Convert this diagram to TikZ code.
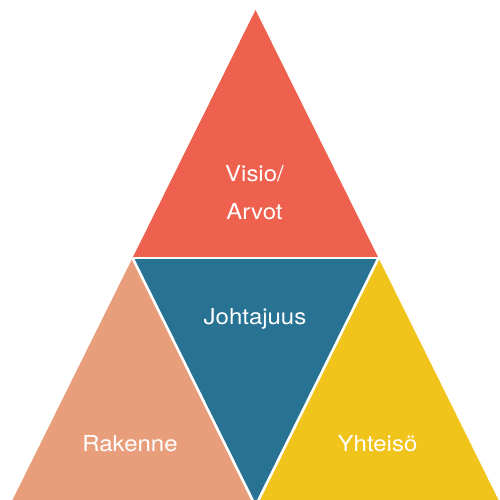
\documentclass[tikz,border=0pt]{standalone}
\usepackage{fontspec}
\setmainfont{TeX Gyre Heros}
\definecolor{cred}{RGB}{238,97,79}
\definecolor{csalmon}{RGB}{232,157,123}
\definecolor{cblue}{RGB}{40,114,148}
\definecolor{cyellow}{RGB}{240,196,26}
\tikzset{
  lbl/.style={text=white, anchor=base, inner sep=0pt, font=\fontsize{22}{26}\selectfont},
  gap/.style={draw=white, line width=2.6pt},
}
\newcommand{\wtxt}[1]{\scalebox{1.09}[1]{#1}}
\begin{document}
\begin{tikzpicture}[x=1pt,y=1pt]
\useasboundingbox (0,0) rectangle (500,500);
\clip (0,0) rectangle (500,500);
\coordinate (A) at (255.5,490);
\coordinate (L) at (132.5,242);
\coordinate (R) at (378.5,242);
\coordinate (BL) at (9.5,-6);
\coordinate (BM) at (255.5,-6);
\coordinate (BR) at (501.5,-6);
\fill[cred] (A) -- (L) -- (R) -- cycle;
\fill[csalmon] (L) -- (BL) -- (BM) -- cycle;
\fill[cyellow] (R) -- (BM) -- (BR) -- cycle;
\fill[cblue] (L) -- (R) -- (BM) -- cycle;
\draw[gap] (L) -- (R);
\draw[gap] (L) -- (BM) -- (R);
\node[lbl] (visio) at (254.5,318) {\wtxt{Visio/}};
\node[lbl] (arvot) at (254.5,280) {\wtxt{Arvot}};
\node[lbl] (johtajuus) at (255,175) {\wtxt{Johtajuus}};
\node[lbl] (rakenne) at (130,48) {\wtxt{Rakenne}};
\node[lbl] (yhteiso) at (377.5,48) {\wtxt{Yhteisö}};
\end{tikzpicture}
\end{document}
